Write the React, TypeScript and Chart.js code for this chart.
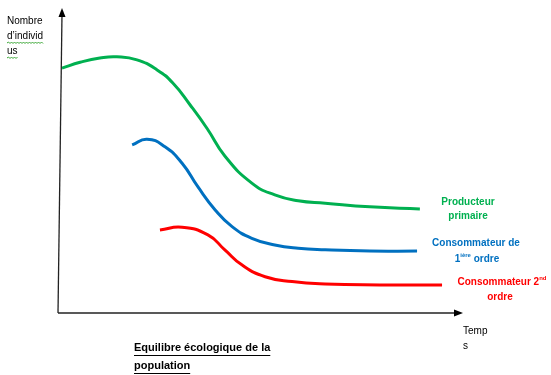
import React, { useEffect, useRef } from "react";
import { Chart, registerables } from "chart.js";

Chart.register(...registerables);

// Time (x) and population (y) samples
const producteurT = [0.5, 5.0, 9.9, 14.1, 19.1, 24.1, 28.0, 32.3, 36.5, 40.9, 47.6, 53.3, 59.1, 65.8, 76.9, 89.3];
const producteurN = [80.3, 82.2, 83.6, 84.0, 83.0, 79.7, 75.4, 68.2, 60.5, 51.5, 42.6, 38.7, 36.8, 36.0, 34.8, 34.1];
const conso1T = [17.9, 21.6, 26.05, 30.3, 34.2, 38.5, 42.7, 47.6, 53.3, 59.1, 65.8, 76.9, 88.6];
const conso1N = [55.1, 57.0, 54.5, 49.1, 41.4, 33.8, 28.3, 24.5, 22.3, 21.2, 20.7, 20.3, 20.3];
const conso2T = [24.8, 30.3, 36.7, 40.9, 45.2, 50.9, 57.6, 65.8, 79.4, 94.8];
const conso2N = [27.2, 28.1, 25.6, 20.7, 15.7, 11.9, 10.3, 9.5, 9.2, 9.2];

const GREEN = "#00B050";
const BLUE = "#0070C0";
const RED = "#FF0000";

const toPts = (xs: number[], ys: number[]) => xs.map((x, i) => ({ x, y: ys[i] }));

const FONT = '"Liberation Sans", Arial, sans-serif';

function squiggle(ctx: CanvasRenderingContext2D, x1: number, x2: number, y: number) {
  ctx.save();
  ctx.strokeStyle = "#3aa635";
  ctx.lineWidth = 1;
  ctx.beginPath();
  let up = true;
  ctx.moveTo(x1, y);
  for (let x = x1 + 1.5; x <= x2; x += 1.5) {
    ctx.lineTo(x, up ? y - 1 : y + 0.5);
    up = !up;
  }
  ctx.stroke();
  ctx.restore();
}

const decorPlugin = {
  id: "decor",
  afterDatasetsDraw(chart: any) {
    const ctx: CanvasRenderingContext2D = chart.ctx;
    const { left, right, top, bottom } = chart.chartArea;
    ctx.save();
    // axes
    ctx.strokeStyle = "#222";
    ctx.lineWidth = 1.3;
    ctx.beginPath();
    ctx.moveTo(left - 2, bottom);
    ctx.lineTo(left + 2, top + 6);
    ctx.stroke();
    ctx.fillStyle = "#000";
    ctx.beginPath();
    ctx.moveTo(left + 2, top);
    ctx.lineTo(left - 1.5, top + 9);
    ctx.lineTo(left + 5.5, top + 9);
    ctx.closePath();
    ctx.fill();

    ctx.beginPath();
    ctx.moveTo(left - 2, bottom);
    ctx.lineTo(right - 6, bottom);
    ctx.stroke();
    ctx.beginPath();
    ctx.moveTo(right, bottom);
    ctx.lineTo(right - 9, bottom - 3.5);
    ctx.lineTo(right - 9, bottom + 3.5);
    ctx.closePath();
    ctx.fill();

    ctx.textBaseline = "middle";
    // y axis label
    ctx.font = `10px ${FONT}`;
    ctx.fillStyle = "#000";
    ctx.textAlign = "left";
    ctx.fillText("Nombre", 7, 21);
    ctx.fillText("d’individ", 7, 36);
    ctx.fillText("us", 7, 51);
    const w1 = ctx.measureText("d’individ").width;
    squiggle(ctx, 7, 7 + w1, 43);
    const w2 = ctx.measureText("us").width;
    squiggle(ctx, 7, 7 + w2, 58);

    // x axis label
    ctx.fillText("Temp", 463, 331);
    ctx.fillText("s", 463, 346);

    // series labels
    ctx.font = `bold 10px ${FONT}`;
    ctx.textAlign = "center";
    ctx.fillStyle = GREEN;
    ctx.fillText("Producteur", 468, 202);
    ctx.fillText("primaire", 468, 216);

    ctx.fillStyle = BLUE;
    ctx.fillText("Consommateur de", 476, 243);
    // "1ière ordre"
    {
      const a = "1";
      const c = " ordre";
      ctx.font = `bold 6px ${FONT}`;
      const wb = ctx.measureText("ière").width;
      ctx.font = `bold 10px ${FONT}`;
      const wa = ctx.measureText(a).width;
      const wc = ctx.measureText(c).width;
      const total = wa + wb + wc;
      let x = 477 - total / 2;
      ctx.textAlign = "left";
      ctx.fillText(a, x, 259);
      x += wa;
      ctx.font = `bold 6px ${FONT}`;
      ctx.fillText("ière", x, 255);
      x += wb;
      ctx.font = `bold 10px ${FONT}`;
      ctx.fillText(c, x, 259);
    }

    ctx.fillStyle = RED;
    {
      const a = "Consommateur 2";
      ctx.font = `bold 10px ${FONT}`;
      const wa = ctx.measureText(a).width;
      ctx.font = `bold 6px ${FONT}`;
      const wb = ctx.measureText("nd").width;
      const x = 502 - (wa + wb) / 2;
      ctx.textAlign = "left";
      ctx.font = `bold 10px ${FONT}`;
      ctx.fillText(a, x, 282);
      ctx.font = `bold 6px ${FONT}`;
      ctx.fillText("nd", x + wa, 278);
    }
    ctx.font = `bold 10px ${FONT}`;
    ctx.textAlign = "center";
    ctx.fillText("ordre", 500, 297);

    // title
    ctx.fillStyle = "#000";
    ctx.textAlign = "left";
    ctx.font = `bold 11px ${FONT}`;
    const t1 = "Equilibre écologique de la";
    const t2 = "population";
    ctx.fillText(t1, 134, 348);
    ctx.fillText(t2, 134, 366);
    ctx.lineWidth = 1;
    ctx.strokeStyle = "#000";
    const tw1 = ctx.measureText(t1).width;
    const tw2 = ctx.measureText(t2).width;
    ctx.beginPath();
    ctx.moveTo(134, 355.5);
    ctx.lineTo(134 + tw1, 355.5);
    ctx.moveTo(134, 373.5);
    ctx.lineTo(134 + tw2, 373.5);
    ctx.stroke();
    ctx.restore();
  },
};

export default function App() {
  const ref = useRef<HTMLCanvasElement | null>(null);

  useEffect(() => {
    document.body.style.margin = "0";
    const canvas = ref.current;
    if (!canvas) return;
    const mk = (data: { x: number; y: number }[], color: string) => ({
      data,
      borderColor: color,
      borderWidth: 3,
      pointRadius: 0,
      fill: false,
      tension: 0.5,
      borderCapStyle: "butt" as const,
      borderJoinStyle: "round" as const,
    });
    const chart = new Chart(canvas, {
      type: "line",
      data: {
        datasets: [
          mk(toPts(producteurT, producteurN), GREEN),
          mk(toPts(conso1T, conso1N), BLUE),
          mk(toPts(conso2T, conso2N), RED),
        ],
      },
      options: {
        animation: false,
        responsive: false,
        devicePixelRatio: 1,
        layout: { padding: { left: 60, right: 88, top: 8, bottom: 62 } },
        plugins: { legend: { display: false }, tooltip: { enabled: false } },
        scales: {
          x: { type: "linear", min: 0, max: 100, display: false },
          y: { type: "linear", min: 0, max: 100, display: false },
        },
      },
      plugins: [decorPlugin],
    });
    return () => chart.destroy();
  }, []);

  return (
    <div style={{ position: "absolute", left: 0, top: 0, width: 551, height: 375, background: "#fff" }}>
      <canvas ref={ref} width={551} height={375} style={{ display: "block" }} />
    </div>
  );
}
